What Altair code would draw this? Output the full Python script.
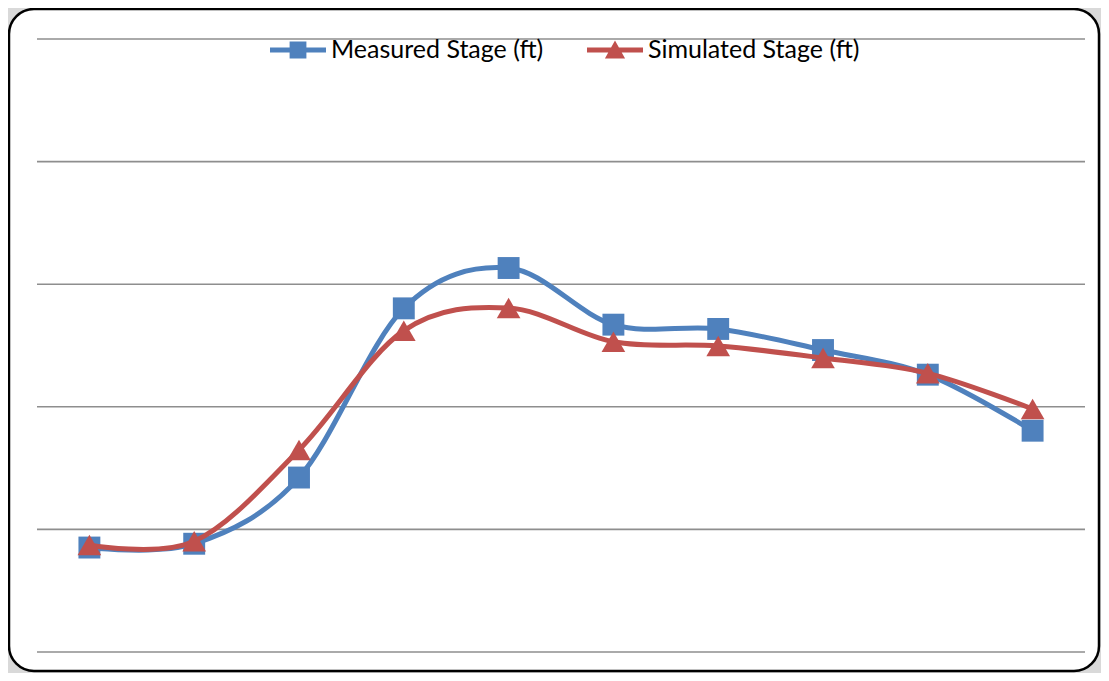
import altair as alt
import pandas as pd

points = ["1", "2", "3", "4", "5", "6", "7", "8", "9", "10"]
measured = [0.852, 0.883, 1.423, 2.803, 3.132, 2.670, 2.635, 2.463, 2.262, 1.805]
simulated = [0.873, 0.903, 1.648, 2.621, 2.806, 2.531, 2.496, 2.398, 2.273, 1.982]
series_names = ["Measured Stage (ft)", "Simulated Stage (ft)"]
series_colors = ["#4F81BD", "#C0504D"]
grid_values = [0, 1, 2, 3, 4, 5]

rows = []
for p, m, s in zip(points, measured, simulated):
    rows.append({"point": p, "series": series_names[0], "value": m})
    rows.append({"point": p, "series": series_names[1], "value": s})
df = pd.DataFrame(rows)
grid_df = pd.DataFrame({"value": grid_values})

W, H = 1048, 613

x_enc = alt.X("point:O", sort=points, axis=None,
              scale=alt.Scale(type="point", padding=0.5))
y_scale = alt.Scale(domain=[0, 5], nice=False, zero=True)
y_enc = alt.Y("value:Q", scale=y_scale, axis=None)

base = alt.Chart(df)

frame = alt.Chart(alt.Data(values=[{}])).mark_rect(
    fill="white", stroke="black", strokeWidth=2.5, cornerRadius=25
).encode(
    x=alt.value(-28), x2=alt.value(1062), y=alt.value(-30), y2=alt.value(632)
)

grid = alt.Chart(grid_df).mark_rule(color="#8e8e8e", strokeWidth=1.6).encode(
    y=alt.Y("value:Q", scale=y_scale, axis=None),
    x=alt.value(0), x2=alt.value(W),
)

def series_layers(name, color, shape, size):
    sub = base.transform_filter(alt.datum.series == name)
    line = sub.mark_line(color=color, strokeWidth=5, interpolate="cardinal",
                         strokeCap="round").encode(x=x_enc, y=y_enc)
    pts = sub.mark_point(shape=shape, filled=True, color=color, size=size,
                         opacity=1).encode(x=x_enc, y=y_enc)
    return [line, pts]

blue = series_layers(series_names[0], series_colors[0], "square", 480)
red = series_layers(series_names[1], series_colors[1], "triangle-up", 560)

legend_shapes = [
    "M-1,-0.09H1V0.09H-1Z M-0.3,-0.3H0.3V0.3H-0.3Z",
    "M-1,-0.09H1V0.09H-1Z M0,-0.34L0.36,0.3H-0.36Z",
]

def make_legend():
    return alt.Legend(orient="none", legendX=233, legendY=-17,
                      direction="horizontal", title=None,
                      symbolSize=3136, symbolStrokeWidth=0,
                      symbolOpacity=1, labelLimit=400,
                      labelFont="Lato", labelFontSize=25,
                      labelColor="black", columnPadding=43,
                      labelOffset=5, padding=0)

legend_layer = base.mark_point(filled=True, opacity=0).encode(
    x=x_enc, y=y_enc,
    color=alt.Color("series:N", scale=alt.Scale(domain=series_names, range=series_colors),
                    legend=make_legend()),
    shape=alt.Shape("series:N", scale=alt.Scale(domain=series_names, range=legend_shapes),
                    legend=make_legend()),
)

chart = alt.layer(frame, grid, *blue, *red, legend_layer).properties(
    width=W, height=H,
    autosize="none",
    padding={"left": 29, "top": 31, "right": 16, "bottom": 21},
    background="#d9d9d9",
).configure_view(strokeWidth=0)

chart.save("out.html", embed_options={"renderer": "svg", "actions": False})
